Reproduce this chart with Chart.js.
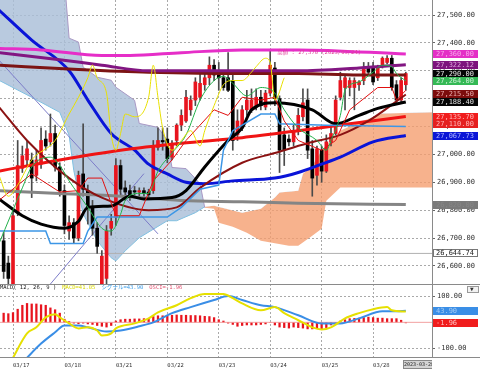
<!DOCTYPE html>
<html>
<head>
<meta charset="utf-8">
<script src="https://cdn.jsdelivr.net/npm/chart.js@4"></script>
<style>
  html, body { margin: 0; padding: 0; background: #fff; }
  #wrap { position: relative; width: 480px; height: 373px; overflow: hidden; }
  #main { position: absolute; left: 0; top: 0; }
  #macd { position: absolute; left: 0; top: 284px; }
</style>
</head>
<body>
<div id="wrap">
  <canvas id="main" width="480" height="284"></canvas>
  <canvas id="macd" width="480" height="89"></canvas>
</div>
<script>
// ---- data ----
const dayIdx = [2, 13, 24, 35, 46, 57, 68, 79];
const dayLabels = ['03/17', '03/18', '03/21', '03/22', '03/23', '03/24', '03/25', '03/28'];
const priceTicks = [26600, 26700, 26800, 26900, 27000, 27100, 27200, 27300, 27400, 27500];
const macdTicks = [-100, 100];

const opens = [26690, 26610, 26535, 26790, 26950, 26980, 26980, 26925, 26965, 27055,
  27045, 27075, 26955, 26870, 26725, 26755, 26700, 26930, 26870, 26810,
  26735, 26530, 26555, 26735, 26775, 26960, 26880, 26870, 26870, 26865,
  26870, 26865, 26870, 27025, 27050, 27055, 26990, 27050, 27105, 27120,
  27160, 27195, 27205, 27250, 27275, 27320, 27285, 27275, 27275, 27265,
  27070, 27095, 27160, 27160, 27170, 27205, 27170, 27220, 27310, 27200,
  27070, 27055, 27045, 27085, 27135, 27195, 27020, 26925, 27015, 26940,
  27045, 27075, 27205, 27240, 27240, 27240, 27250, 27265, 27315, 27315,
  27275, 27320, 27330, 27345, 27250, 27195, 27250];
const highs = [26720, 26635, 26805, 27050, 27030, 27050, 27005, 27015, 27095, 27085,
  27145, 27105, 26970, 26890, 26780, 26770, 26940, 27110, 26890, 26835,
  26755, 26655, 26745, 26785, 26985, 26980, 26905, 26890, 26885, 26880,
  26880, 26875, 27050, 27095, 27095, 27095, 27050, 27110, 27160, 27230,
  27210, 27275, 27290, 27300, 27350, 27340, 27330, 27300, 27365, 27285,
  27160, 27175, 27230, 27235, 27235, 27230, 27230, 27370, 27330, 27210,
  27095, 27070, 27105, 27165, 27235, 27235, 27050, 27030, 27030, 27070,
  27105, 27210, 27295, 27285, 27275, 27275, 27265, 27330, 27330, 27330,
  27320, 27350, 27355, 27355, 27265, 27275, 27295];
const lows = [26555, 26535, 26520, 26780, 26935, 26960, 26845, 26905, 26950, 27015,
  27030, 26940, 26850, 26715, 26695, 26680, 26690, 26850, 26750, 26710,
  26645, 26510, 26535, 26710, 26745, 26850, 26835, 26835, 26855, 26850,
  26850, 26845, 26860, 27015, 27015, 26970, 26980, 27030, 27085, 27115,
  27140, 27175, 27195, 27230, 27250, 27265, 27230, 27230, 27225, 27015,
  27050, 27085, 27140, 27150, 27160, 27160, 27160, 27210, 27175, 26935,
  26960, 27030, 27030, 27070, 27120, 26985, 26850, 26890, 26900, 26935,
  27030, 27070, 27195, 27160, 27210, 27160, 27230, 27250, 27290, 27250,
  27265, 27310, 27325, 27230, 27185, 27185, 27230];
const closes = [26580, 26555, 26780, 26960, 26995, 27020, 26915, 26980, 27050, 27030,
  27075, 26955, 26870, 26745, 26755, 26700, 26925, 26875, 26810, 26735,
  26670, 26635, 26725, 26760, 26960, 26875, 26865, 26850, 26865, 26870,
  26860, 26855, 27030, 27050, 27045, 26985, 27040, 27105, 27140, 27205,
  27195, 27260, 27255, 27275, 27320, 27285, 27275, 27240, 27230, 27050,
  27120, 27160, 27195, 27195, 27205, 27175, 27220, 27320, 27200, 27015,
  27015, 27045, 27085, 27140, 27185, 27015, 26915, 27020, 26940, 27045,
  27075, 27195, 27265, 27275, 27265, 27265, 27260, 27310, 27295, 27260,
  27315, 27345, 27345, 27240, 27195, 27265, 27290];

// moving averages and other lines as [bar index, price]
const maMagenta = [[-1, 27380], [8, 27375], [21, 27355], [27, 27355], [38, 27365], [51, 27375], [63, 27375], [86, 27360]];
const maPurple = [[-1, 27365], [12, 27340], [21, 27320], [31, 27300], [42, 27300], [51, 27300], [63, 27300], [76, 27310], [86, 27322]];
const maMaroon = [[-1, 27320], [16, 27305], [31, 27295], [51, 27290], [63, 27290], [76, 27285], [86, 27285]];
const maDarkRed = [[-1, 27170], [5, 27050], [14, 26915], [21, 26845], [31, 26800], [37, 26810], [42, 26880], [51, 26970], [58, 27005], [65, 27040], [72, 27070], [78, 27120], [86, 27215]];
const maBlack = [[-1, 26840], [4, 26780], [8, 26750], [13, 26735], [16, 26760], [18, 26810], [23, 26815], [27, 26850], [30, 26840], [36, 26845], [39, 26870], [43, 26955], [48, 27050], [51, 27095], [53, 27160], [58, 27185], [66, 27160], [71, 27110], [76, 27140], [80, 27165], [86, 27188]];
const maRed = [[-1, 26940], [12, 26980], [25, 27015], [38, 27040], [51, 27060], [63, 27085], [74, 27110], [86, 27136]];
const maBlue = [[-1, 27518], [6, 27410], [14, 27300], [18, 27195], [23, 27075], [28, 27015], [31, 26965], [35, 26930], [39, 26900], [43, 26895], [49, 26905], [58, 26915], [63, 26935], [68, 26965], [72, 26990], [79, 27045], [86, 27068]];
const maGray = [[-1, 26870], [12, 26860], [25, 26850], [38, 26835], [51, 26830], [63, 26825], [86, 26820]];
const maGreen = [[-1, 26680], [4, 26880], [6, 26955], [10, 26990], [12, 26960], [14, 26905], [18, 26810], [21, 26735], [23, 26725], [25, 26785], [26, 26835], [29, 26860], [31, 26860], [33, 26940], [36, 27005], [39, 27070], [42, 27195], [45, 27265], [47, 27280], [49, 27255], [52, 27210], [55, 27240], [58, 27220], [60, 27160], [63, 27095], [67, 27050], [69, 27015], [70, 27050], [72, 27140], [73, 27230], [76, 27260], [79, 27295], [81, 27320], [83, 27315], [84, 27290], [86, 27264]];
const tenkan = [[-1, 26835], [6, 26930], [12, 26865], [16, 26870], [18, 26915], [21, 26915], [24, 26780], [29, 26780], [32, 26905], [36, 26980], [39, 27050], [45, 27160], [48, 27140], [51, 27205], [55, 27195], [58, 27205], [60, 27120], [63, 27050], [68, 27015], [71, 27050], [74, 27160], [80, 27240], [83, 27240], [84, 27195], [86, 27230]];
const kijun = [[-1, 26725], [9, 26725], [10, 26680], [17, 26680], [18, 26725], [20, 26775], [35, 26775], [38, 26810], [42, 26875], [46, 26890], [47, 27015], [49, 27085], [51, 27105], [55, 27145], [58, 27145], [59, 27110], [69, 27105], [86, 27100]];
const chikou = [[-1, 26925], [1, 26850], [3, 26890], [6, 26980], [11, 27050], [14, 27145], [16, 27205], [18, 27275], [19, 27320], [20, 27275], [22, 27220], [23, 27070], [24, 27015], [25, 27075], [26, 27145], [28, 27135], [31, 27205], [32, 27320], [33, 27205], [34, 27095], [36, 27015], [38, 27050], [40, 27085], [42, 27030], [43, 27085], [45, 27175], [47, 27250], [49, 27265], [51, 27265], [53, 27295], [54, 27315], [56, 27345], [57, 27330], [58, 27195], [60, 27275]];
const spanA = [[-1, 27626], [13, 27626], [14, 27417], [16, 27403], [17, 27313], [20, 27277], [23, 27266], [24, 27241], [28, 27194], [29, 27111], [33, 27097], [35, 27050], [36, 26953], [39, 26949], [42, 26895], [43, 26809], [45, 26805], [46, 26755], [49, 26740], [52, 26719], [55, 26690], [61, 26672], [63, 26672], [66, 26708], [68, 26733], [69, 26834], [72, 26881], [92, 26881]];
const spanB = [[-1, 27266], [6, 27205], [12, 27151], [14, 27068], [15, 26942], [17, 26787], [20, 26690], [23, 26629], [24, 26618], [26, 26654], [29, 26701], [35, 26762], [37, 26762], [41, 26791], [43, 26812], [45, 26816], [51, 26791], [55, 26805], [58, 26845], [59, 26863], [63, 26870], [64, 26931], [66, 26960], [68, 27014], [72, 27086], [76, 27115], [81, 27147], [92, 27151]];
const trendDown = [[-1, 27338], [33, 26715]];
const trendUp = [[10, 26535], [30, 26931]];
const lowMark = 26644.74;

// MACD panel
const osci = [35, 33, 37, 50, 65, 72, 70, 70, 67, 65, 55, 48, 35, 12, 3, -3, -5, -3, -6, -8,
  -12, -15, -18, -12, 5, 10, 12, 12, 13, 13, 14, 14, 22, 25, 25, 25, 27, 28, 27, 27,
  26, 26, 25, 23, 22, 18, 10, 5, -3, -8, -15, -12, -10, -10, -10, -8, -6, 0, -10, -18,
  -20, -22, -18, -20, -22, -25, -25, -22, -28, -20, -10, -2, 5, 10, 14, 15, 16, 18, 20, 18,
  16, 16, 14, 14, 14, 8, -2];
const macdLine = [[0, -200], [2, -135], [5, -42], [7, -19], [9, 19], [11, 31], [12, 19], [14, -4], [16, -23], [18, -19], [20, -31], [21, -50], [23, -42], [24, -23], [28, -4], [31, 15], [33, 38], [37, 65], [40, 92], [43, 108], [47, 108], [49, 92], [51, 72], [55, 46], [58, 58], [60, 35], [63, 8], [66, -19], [68, -27], [70, -19], [73, 15], [76, 35], [79, 50], [82, 58], [83, 46], [86, 41]];
const signalLine = [[0, -230], [5, -135], [8, -81], [11, -38], [13, -12], [16, -12], [18, -19], [22, -35], [25, -31], [29, -15], [32, 0], [36, 35], [40, 58], [45, 85], [48, 100], [51, 85], [55, 65], [58, 58], [63, 27], [68, -4], [72, -4], [76, 15], [81, 42], [84, 42], [86, 44]];
const macdLast = 41.05, signalLast = 43.90, osciLast = -1.96;

// right-edge value tags
const lastValues = [27360, 27322.12, 27290, 27264, 27215.5, 27188.4, 27135.7, 27110, 27067.73, 26820];
const tagBg = ['#e42fc6', '#7d137d', '#050505', '#34b955', '#7c0c0c', '#050505', '#f01c1c', '#e42020', '#0b16d6', '#7a7a7a'];
const tagFg = ['#f7a6ea', '#d9a5d9', '#e0e0e0', '#c9f0d2', '#e8a8a8', '#e0e0e0', '#ffb4b4', '#ffb4b4', '#a8b0ff', '#868686'];

// ---- helpers ----
const X_MIN = -0.78, X_MAX = 91.6;
const MONO = '"DejaVu Sans Mono", "Noto Sans CJK JP", monospace';
const fmt = v => v.toLocaleString('en-US', { minimumFractionDigits: 2, maximumFractionDigits: 2 });
const pts = arr => arr.map(([x, y]) => ({ x, y }));

function line(arr, color, width, order, extra) {
  return Object.assign({
    type: 'line', data: pts(arr), borderColor: color, borderWidth: width,
    pointRadius: 0, fill: false, tension: 0, order: order
  }, extra || {});
}
const smooth = { cubicInterpolationMode: 'monotone' };

function valAt(arr, x) {
  for (let k = 1; k < arr.length; k++) {
    if (arr[k][0] >= x) {
      const [x0, y0] = arr[k - 1], [x1, y1] = arr[k];
      return y0 + (y1 - y0) * (x - x0) / (x1 - x0);
    }
  }
  return arr[arr.length - 1][1];
}
// where the cloud twists from blue to salmon
const twist = spanA.find(([x, y]) => x > 0 && y < valAt(spanB, x))[0];

const upColor = '#e8141e', downColor = '#000000';
const candleColors = closes.map((c, i) => c >= opens[i] ? upColor : downColor);

const gridCommon = { color: '#a9a9a9', offset: false };

// ---- main price chart ----
const mainOverlay = {
  id: 'mainOverlay',
  afterDraw(chart) {
    const { ctx, scales: { x, y } } = chart;
    ctx.save();
    ctx.font = '7px ' + MONO;
    ctx.textBaseline = 'middle';
    lastValues.forEach((v, k) => {
      const py = Math.round(y.getPixelForValue(v));
      ctx.fillStyle = tagBg[k];
      ctx.fillRect(433, py - 4, 45, 8);
      ctx.fillStyle = tagFg[k];
      ctx.fillText(fmt(v), 436, py + 0.5);
    });
    // recent low tag
    const ly = Math.round(y.getPixelForValue(lowMark));
    ctx.fillStyle = '#fff';
    ctx.fillRect(433, ly - 4, 45, 8);
    ctx.strokeStyle = '#777';
    ctx.lineWidth = 1;
    ctx.strokeRect(433.5, ly - 3.5, 44, 7);
    ctx.fillStyle = '#222';
    ctx.fillText(fmt(lowMark), 436, ly + 0.5);
    // high annotation
    const hi = Math.max(...highs), hiIdx = highs.indexOf(hi);
    ctx.font = '5.5px ' + MONO;
    ctx.fillStyle = '#e0409a';
    ctx.fillText('高値 : ' + hi.toLocaleString('en-US') + ' (2023/03/24)',
      x.getPixelForValue(hiIdx) + 7, y.getPixelForValue(hi) + 1);
    ctx.restore();
  }
};

new Chart(document.getElementById('main'), {
  data: {
    datasets: [
      line(spanA, 'rgba(0,0,0,0)', 1, 100, {
        fill: { target: '+1', above: 'rgba(170,190,216,0.82)', below: 'rgba(245,156,109,0.78)' },
        segment: { borderColor: c => c.p1.parsed.x <= twist ? '#a898c4' : 'rgba(0,0,0,0)' }
      }),
      line(spanB, 'rgba(0,0,0,0)', 1, 100, {
        segment: { borderColor: c => c.p1.parsed.x <= twist ? '#7cc0e4' : 'rgba(0,0,0,0)' }
      }),
      line([[X_MIN, lowMark], [X_MAX, lowMark]], '#b0b0b0', 1, 95),
      line(trendDown, '#7c7cc8', 1, 90),
      line(trendUp, '#7c7cc8', 1, 90),
      {
        type: 'bar', order: 41, grouped: false, barThickness: 1,
        data: highs.map((h, i) => ({ x: i, y: [lows[i], h] })),
        backgroundColor: '#4a4a4a'
      },
      {
        type: 'bar', order: 40, grouped: false, barThickness: 3, minBarLength: 1,
        data: opens.map((o, i) => ({ x: i, y: [o, closes[i]] })),
        backgroundColor: candleColors
      },
      line(maGray, '#858585', 3, 12, smooth),
      line(maBlue, '#0a14d8', 3, 11, smooth),
      line(maRed, '#f01414', 3, 10, smooth),
      line(maMaroon, '#7c1414', 3, 9, smooth),
      line(maPurple, '#821682', 3, 8, smooth),
      line(maMagenta, '#e62ec8', 3, 7, smooth),
      line(maDarkRed, '#8b1212', 2, 6, smooth),
      line(maBlack, '#000000', 3, 5, smooth),
      line(kijun, '#3c96e6', 1.5, 4),
      line(tenkan, '#e01010', 1, 3),
      line(maGreen, '#22b04a', 1, 2, smooth),
      line(chikou, '#e8e000', 1, 1, smooth)
    ]
  },
  options: {
    responsive: false, animation: false, events: [], devicePixelRatio: 1,
    layout: { padding: 0 },
    plugins: { legend: { display: false }, tooltip: { enabled: false },
      filler: { propagate: false, drawTime: 'beforeDatasetsDraw' } },
    scales: {
      x: {
        type: 'linear', min: X_MIN, max: X_MAX, offset: false,
        afterBuildTicks: s => { s.ticks = dayIdx.map(v => ({ value: v })); },
        afterFit: s => { s.height = 0; s.paddingLeft = 0; s.paddingRight = 0; },
        ticks: { display: false },
        grid: Object.assign({ drawTicks: false }, gridCommon),
        border: { display: false, dash: [2, 2] }
      },
      y: {
        type: 'linear', position: 'right', min: 26535, max: 27554,
        afterBuildTicks: s => { s.ticks = priceTicks.map(v => ({ value: v })); },
        afterFit: s => { s.width = 48; s.paddingTop = 0; s.paddingBottom = 0; },
        ticks: { font: { family: MONO, size: 7 }, color: '#333', padding: 2, callback: v => fmt(v) },
        grid: Object.assign({ tickLength: 3, tickColor: '#666', tickBorderDash: [] }, gridCommon),
        border: { display: true, color: '#8a8a8a', dash: [2, 2] }
      }
    }
  },
  plugins: [mainOverlay]
});

// ---- MACD chart ----
const macdOverlay = {
  id: 'macdOverlay',
  afterDraw(chart) {
    const { ctx, scales: { y }, chartArea } = chart;
    ctx.save();
    ctx.strokeStyle = '#8a8a8a';
    ctx.lineWidth = 1;
    ctx.beginPath();
    ctx.moveTo(0, 0.5); ctx.lineTo(480, 0.5);
    ctx.moveTo(0, chartArea.bottom + 0.5); ctx.lineTo(480, chartArea.bottom + 0.5);
    ctx.stroke();

    ctx.font = '5.5px ' + MONO;
    ctx.textBaseline = 'middle';
    const head = [['MACD( 12, 26, 9 )', '#222'], ['MACD=' + macdLast.toFixed(2), '#d8d800'],
      ['シグナル=' + signalLast.toFixed(2), '#3c9ce6'], ['OSCI=' + osciLast.toFixed(2), '#e0506e']];
    let hx = 0;
    head.forEach(([t, c]) => {
      ctx.fillStyle = c;
      ctx.fillText(t, hx, 4);
      hx += ctx.measureText(t).width + 6;
    });

    ctx.font = '7px ' + MONO;
    [[signalLast, '#3a8ee6', '#a6ccf4'], [osciLast, '#f01c1c', '#ffc0c0']].forEach(([v, bg, fg]) => {
      const py = Math.round(y.getPixelForValue(v));
      ctx.fillStyle = bg;
      ctx.fillRect(433, py - 4, 45, 8);
      ctx.fillStyle = fg;
      ctx.fillText(fmt(v), 436, py + 0.5);
    });

    // small menu button
    ctx.fillStyle = '#f2f2f2';
    ctx.fillRect(467, 2, 12, 7);
    ctx.strokeStyle = '#999';
    ctx.strokeRect(467.5, 2.5, 11, 6);
    ctx.fillStyle = '#333';
    ctx.font = '6px ' + MONO;
    ctx.fillText('▼', 470, 5.5);

    // cursor date tag
    ctx.save();
    ctx.beginPath();
    ctx.rect(403, chartArea.bottom + 3, 29, 10);
    ctx.clip();
    ctx.fillStyle = '#d4d4d4';
    ctx.fillRect(403, chartArea.bottom + 3, 29, 9);
    ctx.strokeStyle = '#888';
    ctx.strokeRect(403.5, chartArea.bottom + 3.5, 30, 8);
    ctx.fillStyle = '#222';
    ctx.font = '5px ' + MONO;
    ctx.fillText('2023-03-28', 404, chartArea.bottom + 8);
    ctx.restore();
    ctx.restore();
  }
};

new Chart(document.getElementById('macd'), {
  data: {
    datasets: [
      line([[X_MIN, 0], [X_MAX, 0]], '#f2a0a0', 1, 15),
      {
        type: 'bar', order: 20, barThickness: 1.6,
        data: osci.map((v, i) => ({ x: i, y: v })),
        backgroundColor: '#e8141e'
      },
      line(signalLine, '#3a8ee6', 2, 2, smooth),
      line(macdLine, '#e6e000', 2, 1, smooth)
    ]
  },
  options: {
    responsive: false, animation: false, events: [], devicePixelRatio: 1,
    layout: { padding: 0 },
    plugins: { legend: { display: false }, tooltip: { enabled: false } },
    scales: {
      x: {
        type: 'linear', min: X_MIN, max: X_MAX, offset: false,
        afterBuildTicks: s => { s.ticks = dayIdx.map(v => ({ value: v })); },
        afterFit: s => { s.height = 16; s.paddingLeft = 0; s.paddingRight = 0; },
        ticks: { font: { family: MONO, size: 5.5 }, color: '#333', align: 'start', padding: 5,
          maxRotation: 0, minRotation: 0, autoSkip: false, callback: (v, i) => dayLabels[i] },
        grid: Object.assign({ drawTicks: false }, gridCommon),
        border: { display: false, dash: [2, 2] }
      },
      y: {
        type: 'linear', position: 'right', min: -132, max: 146,
        afterBuildTicks: s => { s.ticks = macdTicks.map(v => ({ value: v })); },
        afterFit: s => { s.width = 48; s.paddingTop = 0; s.paddingBottom = 0; },
        ticks: { font: { family: MONO, size: 7 }, color: '#333', padding: 2, callback: v => fmt(v) },
        grid: Object.assign({ tickLength: 3, tickColor: '#666', tickBorderDash: [] }, gridCommon),
        border: { display: true, color: '#8a8a8a', dash: [2, 2] }
      }
    }
  },
  plugins: [macdOverlay]
});
</script>
</body>
</html>
